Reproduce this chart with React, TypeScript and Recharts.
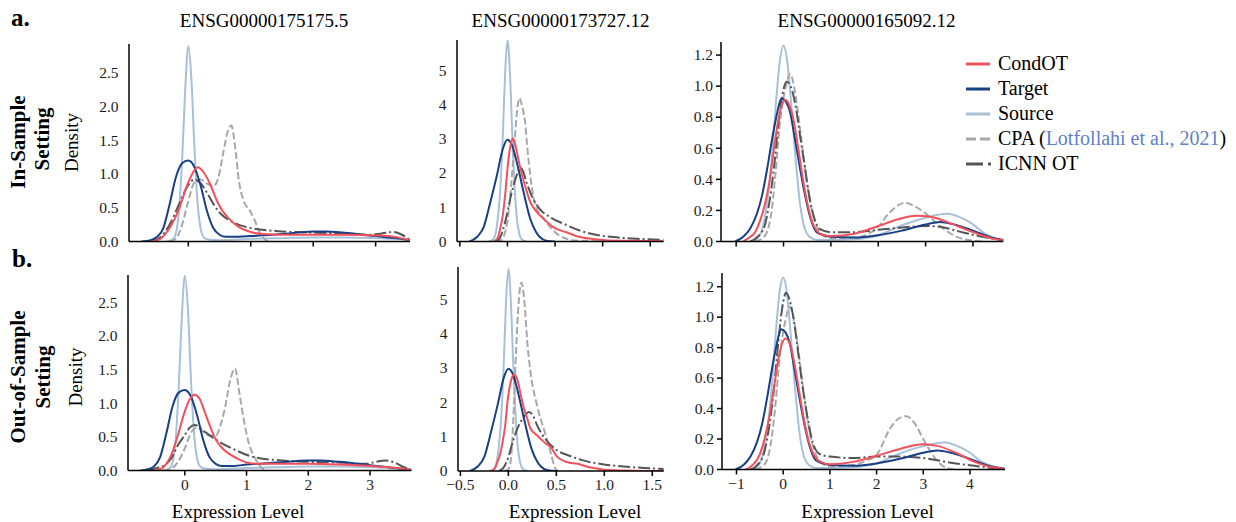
import React from 'react';
import { LineChart, Line, XAxis, YAxis } from 'recharts';

type Pt = [number, number];

// ---- ENSG00000175175.5, in-sample ----
const p1Source: Pt[] = [[-0.35,0],[-0.25,0.03],[-0.2,0.12],[-0.15,0.45],[-0.1,1.2],[-0.05,2.25],[0,2.9],[0.05,2.4],[0.1,1.35],[0.15,0.55],[0.2,0.18],[0.25,0.06],[0.32,0.03],[0.5,0.02],[1.0,0.04],[1.5,0.05],[2.0,0.06],[2.5,0.06],[3.0,0.05],[3.3,0.04],[3.55,0.02]];
const p1Target: Pt[] = [[-0.75,0],[-0.6,0.02],[-0.5,0.07],[-0.4,0.2],[-0.3,0.55],[-0.2,0.95],[-0.1,1.16],[0,1.2],[0.1,1.1],[0.2,0.82],[0.3,0.45],[0.4,0.2],[0.5,0.1],[0.6,0.07],[0.8,0.07],[1.0,0.08],[1.5,0.11],[2.0,0.15],[2.2,0.15],[2.5,0.13],[3.0,0.08],[3.3,0.05],[3.55,0.02]];
const p1CondOT: Pt[] = [[-0.6,0],[-0.45,0.04],[-0.3,0.2],[-0.15,0.48],[0,0.88],[0.1,1.06],[0.15,1.1],[0.25,1.02],[0.35,0.85],[0.45,0.62],[0.55,0.45],[0.65,0.34],[0.8,0.22],[1.0,0.14],[1.2,0.11],[1.5,0.1],[2.0,0.1],[2.5,0.1],[3.0,0.09],[3.2,0.08],[3.4,0.05],[3.55,0.02]];
const p1CPA: Pt[] = [[-0.3,0],[-0.2,0.04],[-0.1,0.25],[0,0.6],[0.1,0.88],[0.2,0.92],[0.3,0.86],[0.4,0.82],[0.48,0.94],[0.56,1.32],[0.64,1.66],[0.69,1.72],[0.75,1.4],[0.81,0.9],[0.88,0.62],[0.99,0.45],[1.07,0.3],[1.15,0.12],[1.23,0.03],[1.32,0]];
const p1ICNN: Pt[] = [[-0.6,0],[-0.45,0.06],[-0.3,0.25],[-0.15,0.55],[0,0.84],[0.1,0.92],[0.2,0.86],[0.32,0.69],[0.42,0.53],[0.53,0.4],[0.65,0.32],[0.75,0.27],[1.0,0.2],[1.5,0.15],[2.0,0.13],[2.5,0.12],[2.9,0.1],[3.1,0.12],[3.28,0.14],[3.42,0.1],[3.55,0.02]];

// ---- ENSG00000173727.12, in-sample ----
const p2Source: Pt[] = [[-0.2,0],[-0.15,0.06],[-0.12,0.3],[-0.1,0.7],[-0.075,1.55],[-0.05,3.0],[-0.025,4.9],[0,5.9],[0.025,5.0],[0.05,3.2],[0.075,1.6],[0.1,0.65],[0.125,0.22],[0.15,0.06],[0.2,0]];
const p2Target: Pt[] = [[-0.4,0],[-0.32,0.13],[-0.25,0.42],[-0.18,1.15],[-0.11,1.95],[-0.05,2.7],[0,2.98],[0.05,2.8],[0.1,2.3],[0.17,1.44],[0.24,0.66],[0.3,0.28],[0.34,0.13],[0.41,0.02],[0.5,0]];
const p2CondOT: Pt[] = [[-0.14,0],[-0.1,0.12],[-0.077,0.37],[-0.05,0.75],[-0.025,1.34],[0.01,2.4],[0.035,2.85],[0.056,3.02],[0.08,2.85],[0.115,2.4],[0.15,1.98],[0.185,1.63],[0.24,1.15],[0.31,0.86],[0.4,0.61],[0.5,0.39],[0.62,0.27],[0.76,0.13],[0.94,0.06],[1.2,0.02],[1.64,0.01]];
const p2CPA: Pt[] = [[-0.12,0],[-0.06,0.05],[-0.025,0.27],[0,0.6],[0.03,1.34],[0.06,2.4],[0.08,3.1],[0.1,3.8],[0.126,4.2],[0.15,4.0],[0.185,3.5],[0.21,2.7],[0.24,1.93],[0.27,1.35],[0.31,0.95],[0.36,0.75],[0.4,0.6],[0.45,0.42],[0.5,0.27],[0.56,0.15],[0.62,0.08],[0.7,0.03],[0.9,0.01],[1.64,0]];
const p2ICNN: Pt[] = [[-0.12,0],[-0.08,0.1],[-0.025,0.56],[0.045,1.44],[0.105,2.0],[0.133,2.17],[0.165,2.05],[0.2,1.73],[0.27,1.25],[0.34,0.95],[0.45,0.71],[0.59,0.52],[0.76,0.32],[0.94,0.19],[1.11,0.13],[1.36,0.08],[1.64,0.05]];

// ---- ENSG00000165092.12, in-sample ----
const p3Source: Pt[] = [[-0.7,0],[-0.55,0.02],[-0.45,0.08],[-0.35,0.24],[-0.25,0.52],[-0.15,0.93],[-0.07,1.18],[0,1.26],[0.07,1.18],[0.15,0.93],[0.25,0.55],[0.35,0.24],[0.45,0.08],[0.55,0.03],[0.7,0.01],[1.0,0.01],[1.5,0.015],[1.97,0.037],[2.46,0.1],[2.96,0.15],[3.45,0.178],[3.8,0.145],[4.0,0.11],[4.25,0.05],[4.5,0.02],[4.74,0.005]];
const p3Target: Pt[] = [[-1.02,0],[-0.85,0.03],[-0.7,0.086],[-0.56,0.18],[-0.45,0.3],[-0.35,0.46],[-0.18,0.76],[-0.035,0.92],[0.05,0.9],[0.14,0.83],[0.23,0.68],[0.32,0.52],[0.42,0.35],[0.56,0.16],[0.7,0.06],[0.85,0.04],[1.0,0.03],[1.5,0.025],[2.0,0.04],[2.5,0.07],[3.0,0.11],[3.3,0.125],[3.6,0.11],[4.0,0.07],[4.4,0.025],[4.74,0.005]];
const p3CondOT: Pt[] = [[-0.85,0],[-0.7,0.03],[-0.6,0.06],[-0.5,0.13],[-0.4,0.23],[-0.3,0.38],[-0.2,0.6],[-0.1,0.8],[0.035,0.91],[0.12,0.88],[0.2,0.8],[0.3,0.62],[0.4,0.42],[0.5,0.25],[0.6,0.13],[0.7,0.07],[0.85,0.04],[1.0,0.035],[1.5,0.05],[2.0,0.1],[2.5,0.15],[2.8,0.165],[3.1,0.16],[3.5,0.12],[4.0,0.06],[4.4,0.02],[4.74,0.005]];
const p3CPA: Pt[] = [[-0.6,0],[-0.45,0.02],[-0.35,0.06],[-0.25,0.2],[-0.18,0.4],[-0.07,0.78],[0.05,1.0],[0.14,1.08],[0.22,1.0],[0.3,0.84],[0.4,0.6],[0.5,0.37],[0.6,0.2],[0.7,0.1],[0.8,0.05],[1.0,0.02],[1.5,0.025],[1.97,0.086],[2.25,0.19],[2.57,0.25],[2.75,0.23],[2.96,0.19],[3.3,0.1],[3.66,0.03],[4.0,0.005],[4.2,0]];
const p3ICNN: Pt[] = [[-0.7,0],[-0.55,0.03],[-0.4,0.1],[-0.3,0.25],[-0.2,0.48],[-0.1,0.78],[0,0.98],[0.07,1.03],[0.15,1.0],[0.25,0.88],[0.35,0.68],[0.45,0.48],[0.55,0.28],[0.65,0.15],[0.77,0.08],[1.0,0.06],[1.5,0.06],[2.0,0.075],[2.5,0.09],[3.0,0.1],[3.3,0.095],[3.7,0.065],[4.2,0.03],[4.6,0.01]];

// ---- out-of-sample (source and target are the same cells as above) ----
const p4Source = p1Source;
const p4Target: Pt[] = [[-0.72,0],[-0.6,0.02],[-0.5,0.06],[-0.4,0.2],[-0.3,0.55],[-0.2,0.95],[-0.1,1.16],[0,1.2],[0.1,1.1],[0.2,0.82],[0.3,0.45],[0.4,0.2],[0.5,0.1],[0.6,0.07],[0.8,0.07],[1.0,0.09],[1.5,0.12],[2.0,0.15],[2.2,0.15],[2.5,0.13],[3.0,0.08],[3.3,0.05],[3.5,0.03],[3.67,0.01]];
const p4CondOT: Pt[] = [[-0.5,0],[-0.38,0.03],[-0.3,0.1],[-0.22,0.23],[-0.11,0.53],[0,0.88],[0.08,1.06],[0.16,1.13],[0.24,1.07],[0.32,0.88],[0.4,0.68],[0.49,0.48],[0.6,0.34],[0.7,0.26],[0.85,0.18],[0.97,0.13],[1.2,0.1],[1.5,0.1],[2.0,0.1],[2.5,0.09],[3.0,0.07],[3.3,0.05],[3.5,0.03],[3.67,0.01]];
const p4CPA: Pt[] = [[-0.35,0],[-0.2,0.04],[-0.11,0.13],[0,0.33],[0.11,0.58],[0.2,0.64],[0.3,0.58],[0.4,0.52],[0.5,0.52],[0.58,0.68],[0.65,0.93],[0.73,1.32],[0.81,1.52],[0.89,1.12],[0.95,0.78],[1.03,0.43],[1.14,0.18],[1.24,0.045],[1.34,0]];
const p4ICNN: Pt[] = [[-0.6,0],[-0.45,0.04],[-0.3,0.1],[-0.22,0.18],[-0.11,0.38],[0,0.53],[0.08,0.64],[0.16,0.68],[0.32,0.58],[0.54,0.44],[0.81,0.31],[1.08,0.21],[1.57,0.15],[2.0,0.13],[2.5,0.12],[2.9,0.1],[3.1,0.13],[3.24,0.15],[3.4,0.12],[3.55,0.05],[3.67,0.01]];

const p5Source = p2Source;
const p5Target = p2Target;
const p5CondOT: Pt[] = [[-0.18,0],[-0.14,0.08],[-0.115,0.26],[-0.085,0.5],[-0.06,0.85],[-0.03,1.4],[-0.01,2.0],[0.025,2.6],[0.06,2.82],[0.1,2.6],[0.13,2.2],[0.163,1.82],[0.2,1.5],[0.23,1.24],[0.3,1.04],[0.35,0.9],[0.39,0.8],[0.44,0.7],[0.51,0.41],[0.61,0.26],[0.72,0.21],[0.86,0.1],[1.0,0.04],[1.3,0.01],[1.62,0]];
const p5CPA: Pt[] = [[-0.04,0],[0,0.05],[0.025,0.3],[0.05,1.4],[0.076,3.2],[0.1,4.6],[0.135,5.5],[0.165,5.0],[0.2,3.67],[0.23,2.9],[0.3,1.9],[0.39,1.04],[0.44,0.55],[0.49,0.07],[0.52,0]];
const p5ICNN: Pt[] = [[-0.1,0],[-0.05,0.1],[0,0.4],[0.025,0.65],[0.094,1.24],[0.163,1.58],[0.215,1.72],[0.26,1.6],[0.3,1.33],[0.41,0.85],[0.51,0.6],[0.65,0.43],[0.82,0.28],[1.0,0.19],[1.2,0.13],[1.41,0.09],[1.62,0.06]];

const p6Source = p3Source;
const p6Target = p3Target;
const p6CondOT: Pt[] = [[-0.8,0],[-0.65,0.03],[-0.5,0.1],[-0.4,0.2],[-0.3,0.34],[-0.2,0.53],[-0.1,0.73],[0.05,0.86],[0.15,0.82],[0.25,0.68],[0.35,0.5],[0.45,0.32],[0.55,0.18],[0.65,0.1],[0.8,0.05],[1.0,0.035],[1.5,0.05],[2.0,0.09],[2.5,0.135],[3.0,0.165],[3.3,0.155],[3.7,0.11],[4.1,0.05],[4.4,0.02],[4.74,0.005]];
const p6CPA: Pt[] = [[-0.6,0],[-0.45,0.02],[-0.35,0.06],[-0.25,0.2],[-0.18,0.38],[-0.07,0.75],[0.05,0.98],[0.14,1.07],[0.22,1.0],[0.3,0.84],[0.4,0.6],[0.5,0.37],[0.6,0.2],[0.7,0.1],[0.8,0.05],[1.0,0.02],[1.5,0.03],[1.8,0.06],[2.0,0.095],[2.29,0.27],[2.45,0.33],[2.64,0.35],[2.8,0.31],[3.0,0.2],[3.15,0.12],[3.29,0.06],[3.5,0.01],[3.7,0]];
const p6ICNN: Pt[] = [[-0.7,0],[-0.55,0.03],[-0.4,0.12],[-0.3,0.28],[-0.2,0.52],[-0.1,0.85],[0,1.1],[0.06,1.16],[0.13,1.12],[0.2,1.03],[0.3,0.82],[0.36,0.67],[0.5,0.38],[0.64,0.17],[0.79,0.1],[1.0,0.085],[1.5,0.075],[2.0,0.085],[2.5,0.085],[3.0,0.075],[3.3,0.06],[3.7,0.04],[4.2,0.02],[4.6,0.005]];

const genes = ['ENSG00000175175.5', 'ENSG00000173727.12', 'ENSG00000165092.12'];
const ticksA = [0, 1, 2, 3];
const ticksB = [-0.5, 0, 0.5, 1, 1.5];
const ticksC = [-1, 0, 1, 2, 3, 4];
const yTicksA = [0, 0.5, 1, 1.5, 2, 2.5];
const yTicksB = [0, 1, 2, 3, 4, 5];
const yTicksC = [0, 0.2, 0.4, 0.6, 0.8, 1.0, 1.2];

const COLORS = {
  condot: '#F2515C',
  target: '#183F86',
  source: '#A8C0D9',
  cpa: '#A8A8A8',
  icnn: '#555555',
};

const SERIF = '"Liberation Serif", "Times New Roman", serif';

const fmt = (v: number, d: number) => (v < 0 ? '\u2212' : '') + Math.abs(v).toFixed(d);
const toData = (pts: Pt[]) => pts.map(([x, y]) => ({ x, y }));

// tick labels as plain svg text in the serif face
const XTick = ({ x, y, payload, show, dec }: any) =>
  show ? (
    <text x={x} y={y} dy="0.71em" textAnchor="middle" fontFamily={SERIF} fontSize={15.5} fill="#1a1a1a">
      {fmt(payload.value, dec)}
    </text>
  ) : null;

const YTick = ({ x, y, payload, dec }: any) => (
  <text x={x} y={y} dy="0.34em" textAnchor="end" fontFamily={SERIF} fontSize={15.5} fill="#1a1a1a">
    {fmt(payload.value, dec)}
  </text>
);

interface PanelProps {
  left: number; top: number; w: number; h: number;
  xDomain: [number, number]; yDomain: [number, number];
  xTicks: number[]; yTicks: number[]; xDec: number; yDec: number;
  showX: boolean; yTickLine: boolean;
  source: Pt[]; target: Pt[]; condot: Pt[]; cpa: Pt[]; icnn: Pt[];
}

const YW = 45;

const Panel: React.FC<PanelProps> = (p) => {
  const lines = [
    { key: 'source', pts: p.source, color: COLORS.source, dash: undefined },
    { key: 'cpa', pts: p.cpa, color: COLORS.cpa, dash: '7 3' },
    { key: 'icnn', pts: p.icnn, color: COLORS.icnn, dash: '12 3 2 3' },
    { key: 'target', pts: p.target, color: COLORS.target, dash: undefined },
    { key: 'condot', pts: p.condot, color: COLORS.condot, dash: undefined },
  ];
  return (
    <div style={{ position: 'absolute', left: p.left - YW, top: p.top - 2 }}>
      <LineChart width={YW + p.w + 2} height={p.h + 32} margin={{ top: 2, right: 2, bottom: 0, left: 0 }}>
        <XAxis dataKey="x" type="number" domain={p.xDomain} ticks={p.xTicks} allowDataOverflow interval={0}
          height={30} stroke="#000" strokeWidth={1.5} tickSize={5} tickMargin={3}
          tick={(tp: any) => <XTick {...tp} show={p.showX} dec={p.xDec} />} />
        <YAxis type="number" domain={p.yDomain} ticks={p.yTicks} allowDataOverflow interval={0}
          width={YW} stroke="#000" strokeWidth={1.5} tickSize={5} tickMargin={p.yTickLine ? 3 : 5.5}
          tickLine={p.yTickLine}
          tick={(tp: any) => <YTick {...tp} dec={p.yDec} />} />
        {lines.map((l) => (
          <Line key={l.key} data={toData(l.pts)} dataKey="y" type="monotone" stroke={l.color}
            strokeWidth={2} strokeDasharray={l.dash} dot={false} activeDot={false} isAnimationActive={false} />
        ))}
      </LineChart>
    </div>
  );
};

const legendRows = [
  { label: 'CondOT', color: COLORS.condot, dash: undefined, len: 24 },
  { label: 'Target', color: COLORS.target, dash: undefined, len: 24 },
  { label: 'Source', color: COLORS.source, dash: undefined, len: 24 },
  { label: 'CPA', color: COLORS.cpa, dash: '10 4', len: 24 },
  { label: 'ICNN OT', color: COLORS.icnn, dash: '17 5 3 5', len: 25 },
];

const Overlay: React.FC = () => (
  <svg width={1236} height={522} style={{ position: 'absolute', left: 0, top: 0, pointerEvents: 'none' }}>
    <g fontFamily={SERIF} fill="#000">
      <text x={11} y={26} fontSize={25} fontWeight="bold">a.</text>
      <text x={12} y={267} fontSize={25} fontWeight="bold">b.</text>
      <text x={264} y={26.5} fontSize={19} textAnchor="middle">{genes[0]}</text>
      <text x={560.5} y={26.5} fontSize={19} textAnchor="middle">{genes[1]}</text>
      <text x={866.5} y={26.5} fontSize={19} textAnchor="middle">{genes[2]}</text>
      {[238, 575, 867.5].map((x, i) => (
        <text key={i} x={x} y={518} fontSize={19} textAnchor="middle">Expression Level</text>
      ))}
      <text transform="translate(24.5,142) rotate(-90)" fontSize={21} fontWeight="bold" textAnchor="middle">In-Sample</text>
      <text transform="translate(49,139) rotate(-90)" fontSize={21} fontWeight="bold" textAnchor="middle">Setting</text>
      <text transform="translate(25,377) rotate(-90)" fontSize={21} fontWeight="bold" textAnchor="middle">Out-of-Sample</text>
      <text transform="translate(50,377) rotate(-90)" fontSize={21} fontWeight="bold" textAnchor="middle">Setting</text>
      <text transform="translate(78,142.5) rotate(-90)" fontSize={19} textAnchor="middle">Density</text>
      <text transform="translate(82,377) rotate(-90)" fontSize={19} textAnchor="middle">Density</text>
      {legendRows.map((r, i) => {
        const y = 64 + i * 25;
        return (
          <g key={r.label}>
            <line x1={966} x2={966 + r.len} y1={y} y2={y} stroke={r.color} strokeWidth={3} strokeDasharray={r.dash} />
            <text x={998} y={y + 6} fontSize={20}>
              {r.label === 'CPA' ? (
                <>CPA (<tspan fill="#5F7FC8">Lotfollahi et al., 2021</tspan>)</>
              ) : r.label}
            </text>
          </g>
        );
      })}
    </g>
  </svg>
);

const App: React.FC = () => (
  <div style={{ position: 'absolute', left: 0, top: 0, width: 1236, height: 522, background: '#fff', overflow: 'hidden' }}>
    <Panel left={129} top={44} w={281} h={197.5} xDomain={[-0.95, 3.55]} yDomain={[0, 2.93]}
      xTicks={ticksA} yTicks={yTicksA} xDec={0} yDec={1} showX={false} yTickLine={false}
      source={p1Source} target={p1Target} condot={p1CondOT} cpa={p1CPA} icnn={p1ICNN} />
    <Panel left={456.7} top={40} w={206.6} h={201.5} xDomain={[-0.53, 1.64]} yDomain={[0, 5.9]}
      xTicks={ticksB} yTicks={yTicksB} xDec={1} yDec={0} showX={false} yTickLine={false}
      source={p2Source} target={p2Target} condot={p2CondOT} cpa={p2CPA} icnn={p2ICNN} />
    <Panel left={720.7} top={42} w={282.3} h={199.5} xDomain={[-1.32, 4.64]} yDomain={[0, 1.284]}
      xTicks={ticksC} yTicks={yTicksC} xDec={0} yDec={1} showX={false} yTickLine={true}
      source={p3Source} target={p3Target} condot={p3CondOT} cpa={p3CPA} icnn={p3ICNN} />
    <Panel left={128.3} top={274.7} w={283.4} h={195.6} xDomain={[-0.92, 3.67]} yDomain={[0, 2.91]}
      xTicks={ticksA} yTicks={yTicksA} xDec={0} yDec={1} showX={true} yTickLine={false}
      source={p4Source} target={p4Target} condot={p4CondOT} cpa={p4CPA} icnn={p4ICNN} />
    <Panel left={457.5} top={267} w={205.8} h={204} xDomain={[-0.525, 1.62]} yDomain={[0, 5.95]}
      xTicks={ticksB} yTicks={yTicksB} xDec={1} yDec={0} showX={true} yTickLine={false}
      source={p5Source} target={p5Target} condot={p5CondOT} cpa={p5CPA} icnn={p5ICNN} />
    <Panel left={722} top={273} w={283} h={196.5} xDomain={[-1.31, 4.75]} yDomain={[0, 1.29]}
      xTicks={ticksC} yTicks={yTicksC} xDec={0} yDec={1} showX={true} yTickLine={true}
      source={p6Source} target={p6Target} condot={p6CondOT} cpa={p6CPA} icnn={p6ICNN} />
    <Overlay />
  </div>
);

export default App;
